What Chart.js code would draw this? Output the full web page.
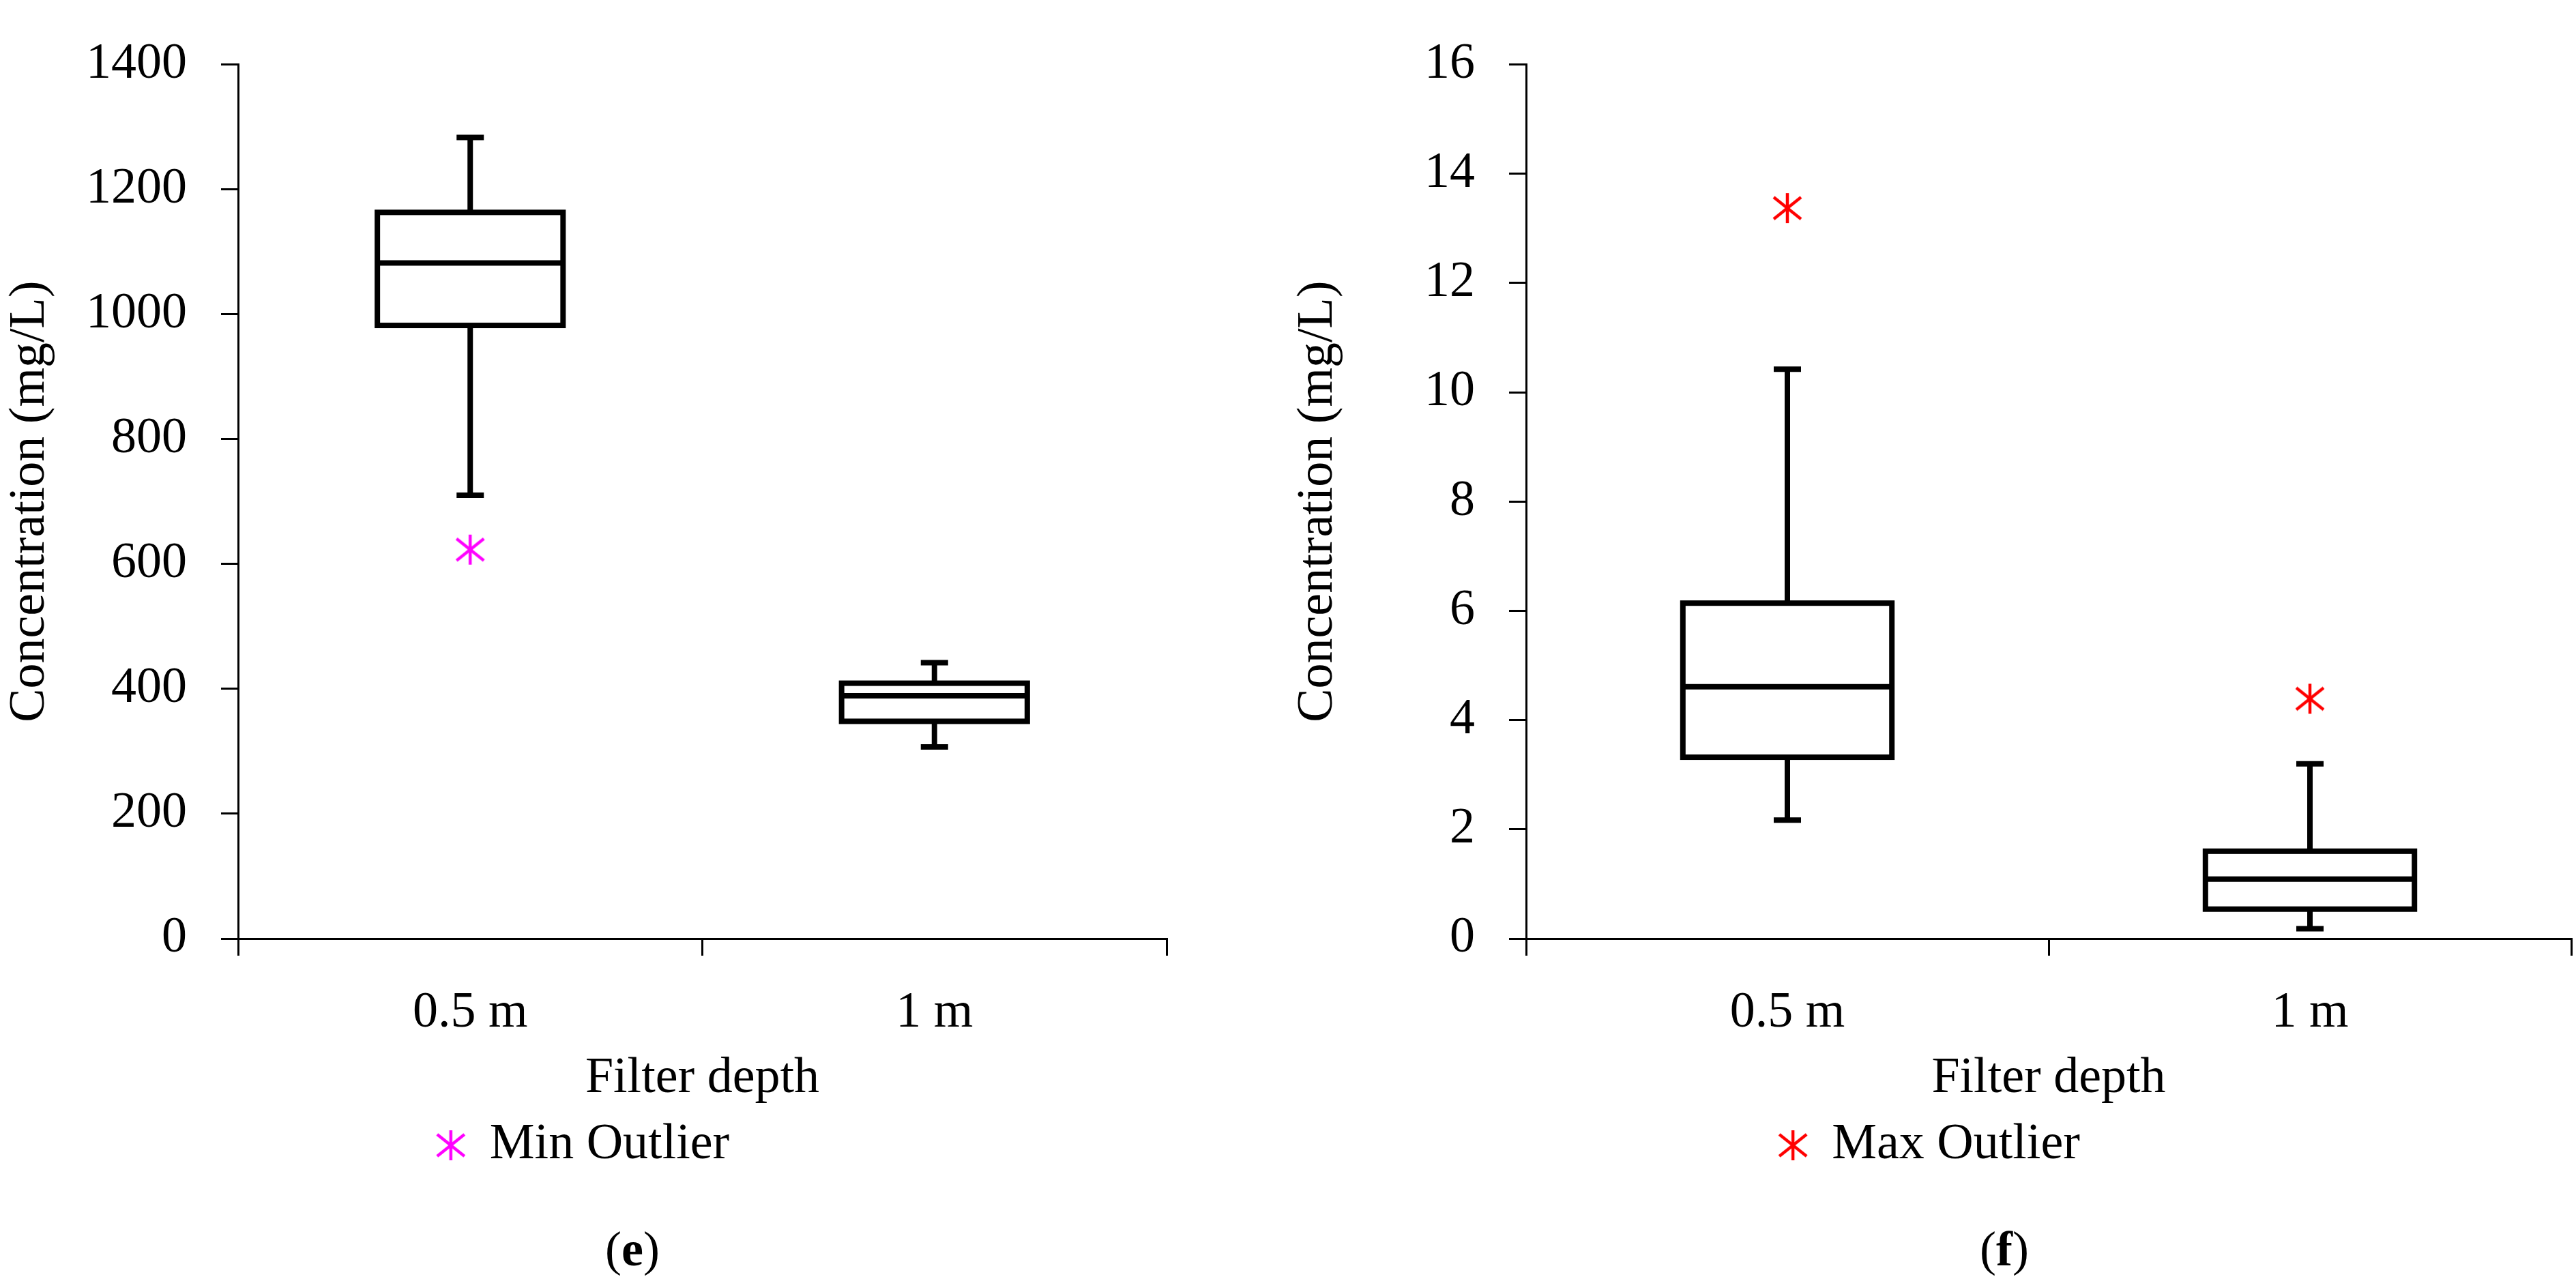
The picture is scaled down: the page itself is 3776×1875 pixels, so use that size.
<!DOCTYPE html>
<html>
<head>
<meta charset="utf-8">
<script src="https://cdn.jsdelivr.net/npm/chart.js@4.4.1/dist/chart.umd.min.js"></script>
<style>
  body { margin: 0; background: #fff; width: 3776px; height: 1875px; position: relative; overflow: hidden; }
  .panel { position: absolute; top: 0; width: 1888px; height: 1750px; }
  .caption { position: absolute; top: 1790px; font: 72px "Liberation Serif", serif; color: #000; transform: translateX(-50%); }
</style>
</head>
<body>
<div class="panel" style="left:0"><canvas id="chartE"></canvas></div>
<div class="panel" style="left:1888px"><canvas id="chartF"></canvas></div>
<div class="caption" style="left:927px">(<b>e</b>)</div>
<div class="caption" style="left:2938px">(<b>f</b>)</div>
<script>
const categories = ["0.5 m", "1 m"];

// panel (e)
const eMin = [710, 307];
const eQ1 = [982, 348];
const eMedian = [1082, 389];
const eQ3 = [1163, 409];
const eMax = [1283, 442];
const eOutliers = [{ x: "0.5 m", y: 623 }];
const eTicks = [0, 200, 400, 600, 800, 1000, 1200, 1400];

// panel (f)
const fMin = [2.17, 0.18];
const fQ1 = [3.32, 0.54];
const fMedian = [4.61, 1.09];
const fQ3 = [6.14, 1.6];
const fMax = [10.42, 3.2];
const fOutliers = [{ x: "0.5 m", y: 13.37 }, { x: "1 m", y: 4.39 }];
const fTicks = [0, 2, 4, 6, 8, 10, 12, 14, 16];

const FONT = "'Liberation Serif', serif";
Chart.defaults.font.family = FONT;
Chart.defaults.color = "#000";

function asterisk(color) {
  const c = document.createElement("canvas");
  c.width = 52; c.height = 52;
  const ctx = c.getContext("2d");
  ctx.strokeStyle = color; ctx.lineWidth = 4.5;
  ctx.translate(26, 26);
  ctx.beginPath(); ctx.moveTo(0, -22); ctx.lineTo(0, 22); ctx.stroke();
  ctx.beginPath(); ctx.moveTo(-20, -16); ctx.lineTo(20, 16); ctx.stroke();
  ctx.beginPath(); ctx.moveTo(20, -16); ctx.lineTo(-20, 16); ctx.stroke();
  return c;
}

const boxPlugin = {
  id: "boxes",
  afterDatasetsDraw(chart, args, opts) {
    const { ctx, scales: { x, y } } = chart;
    const boxHalf = (x.getPixelForValue(1) - x.getPixelForValue(0)) * 0.2;
    const capHalf = 20;
    ctx.save();
    ctx.strokeStyle = "#000"; ctx.lineWidth = 8;
    categories.forEach((cat, i) => {
      const cx = x.getPixelForValue(i);
      const line = (x1, y1, x2, y2) => { ctx.beginPath(); ctx.moveTo(x1, y1); ctx.lineTo(x2, y2); ctx.stroke(); };
      const yMin = y.getPixelForValue(opts.min[i]), yMax = y.getPixelForValue(opts.max[i]);
      const yQ1 = y.getPixelForValue(opts.q1[i]), yQ3 = y.getPixelForValue(opts.q3[i]);
      const yMed = y.getPixelForValue(opts.median[i]);
      line(cx, yMax, cx, yQ3);
      line(cx, yQ1, cx, yMin);
      line(cx - capHalf, yMax, cx + capHalf, yMax);
      line(cx - capHalf, yMin, cx + capHalf, yMin);
      ctx.strokeRect(cx - boxHalf, yQ3, boxHalf * 2, yQ1 - yQ3);
      line(cx - boxHalf, yMed, cx + boxHalf, yMed);
    });
    ctx.restore();
  }
};

function makeChart(id, box, outliers, ticks, label, color, padTop, padRight) {
  return new Chart(document.getElementById(id), {
    type: "line",
    data: {
      labels: categories,
      datasets: [{ label, data: outliers, showLine: false, pointStyle: asterisk(color),
        borderColor: color, backgroundColor: color }]
    },
    plugins: [boxPlugin],
    options: {
      responsive: true, maintainAspectRatio: false, animation: false,
      layout: { padding: { top: padTop, right: padRight, bottom: 24, left: 0 } },
      plugins: {
        tooltip: { enabled: false },
        boxes: box,
        legend: { position: "bottom", labels: { usePointStyle: true, padding: 16, font: { size: 74 } } }
      },
      scales: {
        x: {
          offset: true,
          grid: { offset: true, drawOnChartArea: false, drawTicks: true, tickLength: 25, color: "#000", lineWidth: 3 },
          border: { color: "#000", width: 3 },
          ticks: { padding: 40, font: { size: 74 } },
          title: { display: true, text: "Filter depth", font: { size: 74 }, padding: { top: 0, bottom: 0 } },
          afterFit: (s) => { s.height = 250; }
        },
        y: {
          min: ticks[0], max: ticks[ticks.length - 1],
          afterBuildTicks: (s) => { s.ticks = ticks.map((v) => ({ value: v })); },
          grid: { drawOnChartArea: false, drawTicks: true, tickLength: 25, color: "#000", lineWidth: 3 },
          border: { color: "#000", width: 3 },
          ticks: { padding: 50, font: { size: 74 }, callback: (v) => String(v) },
          title: { display: true, text: "Concentration (mg/L)", font: { size: 74 }, padding: { top: 0, bottom: 0 } },
          afterFit: (s) => { s.width = 349; }
        }
      }
    }
  });
}

makeChart("chartE", { min: eMin, q1: eQ1, median: eMedian, q3: eQ3, max: eMax },
  eOutliers, eTicks, "Min Outlier", "#FF00FF", 50, 178);
makeChart("chartF", { min: fMin, q1: fQ1, median: fMedian, q3: fQ3, max: fMax },
  fOutliers, fTicks, "Max Outlier", "#FF0000", 56, 7);
</script>
</body>
</html>
